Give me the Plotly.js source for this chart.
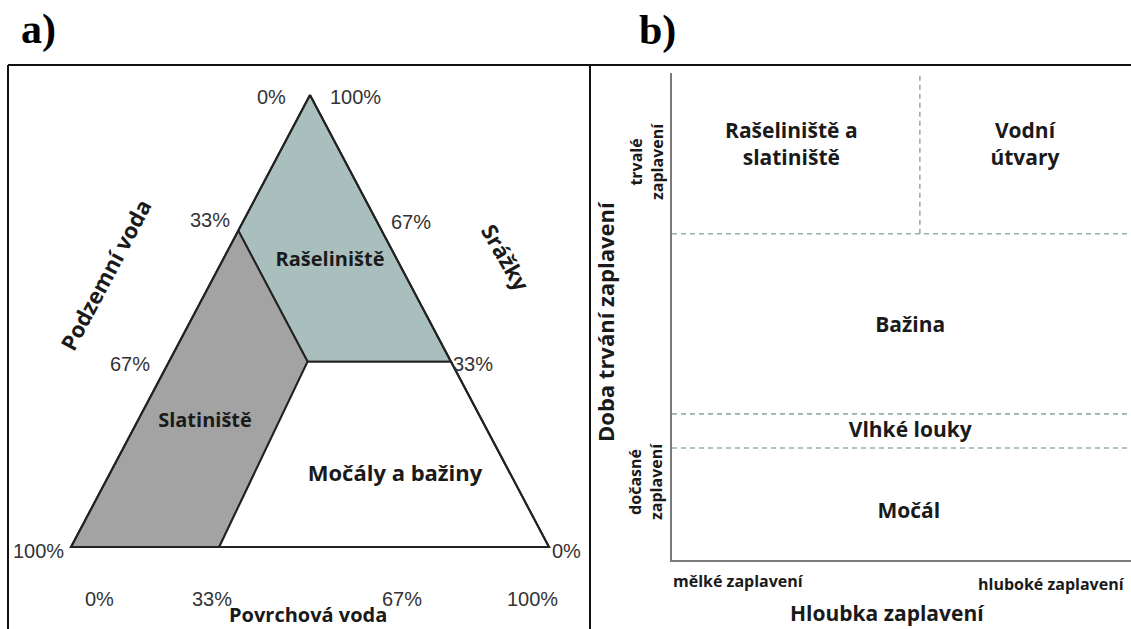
<!DOCTYPE html>
<html><head><meta charset="utf-8">
<script src="https://cdn.plot.ly/plotly-3.0.1.min.js"></script>
<style>html,body{margin:0;padding:0;background:#fff}#chart{width:1131px;height:629px}</style>
</head><body><div id="chart"></div>
<script>
// ---------- DATA ----------
// Panel a: regions in the triangle (x: 0..100 along the base, y: 0..100 up to the apex)
const peatX  = [50, 35, 49.5, 79.5, 50];
const peatY  = [100, 70, 41, 41, 100];
const fenX   = [35, 0, 31, 49.5, 35];
const fenY   = [70, 0, 0, 41, 70];
const marshX = [49.5, 31, 100, 79.5, 49.5];
const marshY = [41, 0, 0, 41, 41];
const triX   = [50, 0, 100, 50];
const triY   = [100, 0, 0, 100];
const regionNamesA = ['Rašeliniště', 'Slatiniště', 'Močály a bažiny'];
const groundTicks  = ['0%', '33%', '67%', '100%'];   // Podzemní voda (left edge, top -> bottom)
const rainTicks    = ['100%', '67%', '33%', '0%'];   // Srážky (right edge, top -> bottom)
const surfaceTicks = ['0%', '33%', '67%', '100%'];   // Povrchová voda (base, left -> right)
const axisNamesA   = ['Podzemní voda', 'Srážky', 'Povrchová voda'];

// Panel b: flooding duration (0..1) vs. depth (0..1)
const durationBounds = [0.23, 0.30, 0.67];
const depthSplit = 0.54;
const classesB = ['Rašeliniště a<br>slatiniště', 'Vodní<br>útvary', 'Bažina', 'Vlhké louky', 'Močál'];
const depthLabels = ['mělké zaplavení', 'hluboké zaplavení'];
const durationLabels = ['trvalé<br>zaplavení', 'dočasné<br>zaplavení'];
const axisNamesB = ['Hloubka zaplavení', 'Doba trvání zaplavení'];

// ---------- LAYOUT HELPERS ----------
const W = 1131, H = 629;
const PX = p => p / W, PY = p => 1 - p / H;
// panel a scale: base from px 71 (x=0) with 4.78 px/unit; base at py 547 (y=0) with 4.52 px/unit
const ax0 = 71, axs = 4.78, ay0 = 547, ays = 4.52;
const xa = [(0 - ax0) / axs, (590 - ax0) / axs];
const ya = [(ay0 - H) / ays, ay0 / ays];
const dX = p => (p - ax0) / axs, dY = p => (ay0 - p) / ays;

const pctFont = {family: 'Liberation Sans, Arial, sans-serif', size: 20, color: '#333'};
const boldFont = (s) => ({family: 'Open Sans, sans-serif', size: s, color: '#1a1a1a', weight: 'bold'});
const edge = {color: '#222', width: 2};

const traces = [
  {x: peatX, y: peatY, fill: 'toself', fillcolor: '#a8bfbe', line: edge, mode: 'lines', xaxis: 'x', yaxis: 'y', hoverinfo: 'skip'},
  {x: fenX, y: fenY, fill: 'toself', fillcolor: '#a3a3a3', line: edge, mode: 'lines', xaxis: 'x', yaxis: 'y', hoverinfo: 'skip'},
  {x: marshX, y: marshY, fill: 'toself', fillcolor: '#ffffff', line: edge, mode: 'lines', xaxis: 'x', yaxis: 'y', hoverinfo: 'skip'},
  {x: triX, y: triY, line: edge, mode: 'lines', xaxis: 'x', yaxis: 'y', hoverinfo: 'skip'},
  {x: [dX(330), dX(205)], y: [dY(261), dY(422)], text: regionNamesA.slice(0, 2),
   mode: 'text', textfont: boldFont(20), xaxis: 'x', yaxis: 'y', hoverinfo: 'skip', cliponaxis: false},
  {x: [dX(395)], y: [dY(475)], text: regionNamesA.slice(2),
   mode: 'text', textfont: boldFont(22), xaxis: 'x', yaxis: 'y', hoverinfo: 'skip', cliponaxis: false}
];

// Panel b dashed boundaries
const dashLine = {color: '#95b2aa', width: 1.6, dash: '5px,4px'};
durationBounds.forEach(b => traces.push({x: [0, 1], y: [b, b], mode: 'lines', line: dashLine, xaxis: 'x2', yaxis: 'y2', hoverinfo: 'skip'}));
traces.push({x: [depthSplit, depthSplit], y: [durationBounds[2], 1], mode: 'lines', line: dashLine, xaxis: 'x2', yaxis: 'y2', hoverinfo: 'skip'});
traces.push({
  x: [0.26, 0.769, 0.519, 0.519, 0.516], y: [0.849, 0.849, 0.479, 0.264, 0.098],
  text: classesB, mode: 'text', textfont: boldFont(21), xaxis: 'x2', yaxis: 'y2', hoverinfo: 'skip', cliponaxis: false
});

const ann = [];
const addA = (text, px, py, font, angle) => ann.push({text, x: PX(px), y: PY(py), xref: 'paper', yref: 'paper',
  showarrow: false, font, textangle: angle || 0, xanchor: 'center', yanchor: 'middle'});

// panel letters
addA('a)', 38, 30, {family: 'Liberation Serif, Times New Roman, serif', size: 42, color: '#000', weight: 'bold'});
addA('b)', 657, 31, {family: 'Liberation Serif, Times New Roman, serif', size: 42, color: '#000', weight: 'bold'});

// ternary tick labels
const gPos = [[271, 97], [210, 220], [130, 364], [38, 551]];
const rPos = [[355, 97], [411, 222], [473, 364], [566, 551]];
const sPos = [[99, 599], [212, 599], [402, 599], [532, 599]];
groundTicks.forEach((t, i) => addA(t, gPos[i][0], gPos[i][1], pctFont));
rainTicks.forEach((t, i) => addA(t, rPos[i][0], rPos[i][1], pctFont));
surfaceTicks.forEach((t, i) => addA(t, sPos[i][0], sPos[i][1], pctFont));
addA(axisNamesA[0], 105, 275, boldFont(22), -62);
addA(axisNamesA[1], 506, 257, boldFont(22), 60);
addA(axisNamesA[2], 308, 614, boldFont(20));

// panel b axis labels
const smallBold = {family: 'Open Sans, sans-serif', size: 16, color: '#1a1a1a', weight: 'bold'};
addA(depthLabels[0], 739, 581, smallBold);
addA(depthLabels[1], 1051, 584, smallBold);
addA(durationLabels[0], 646, 162, smallBold, -90);
addA(durationLabels[1], 646, 482, smallBold, -90);
addA(axisNamesB[0], 887, 613, boldFont(21));
addA(axisNamesB[1], 605, 322, boldFont(22), -90);

const shapes = [
  {type: 'line', xref: 'paper', yref: 'paper', x0: PX(8), x1: 1, y0: PY(65), y1: PY(65), line: {color: '#111', width: 2}},
  {type: 'line', xref: 'paper', yref: 'paper', x0: PX(8), x1: PX(8), y0: PY(65), y1: 0, line: {color: '#111', width: 2}},
  {type: 'line', xref: 'paper', yref: 'paper', x0: PX(590), x1: PX(590), y0: PY(65), y1: 0, line: {color: '#111', width: 2}}
];

const hidden = {visible: false, fixedrange: true};
const layout = {
  width: W, height: H, margin: {l: 0, r: 0, t: 0, b: 0}, showlegend: false,
  paper_bgcolor: '#fff', plot_bgcolor: 'rgba(0,0,0,0)',
  xaxis: Object.assign({domain: [0, PX(590)], range: xa}, hidden),
  yaxis: Object.assign({domain: [0, 1], range: ya}, hidden),
  xaxis2: {domain: [PX(672), 1], range: [0, 1], showline: true, linecolor: '#7a7a7a', linewidth: 2,
           showgrid: false, zeroline: false, showticklabels: false, ticks: '', anchor: 'y2', fixedrange: true},
  yaxis2: {domain: [PY(560), PY(73)], range: [0, 1], showline: true, linecolor: '#7a7a7a', linewidth: 2,
           showgrid: false, zeroline: false, showticklabels: false, ticks: '', anchor: 'x2', fixedrange: true},
  annotations: ann, shapes: shapes
};
Plotly.newPlot('chart', traces, layout, {staticPlot: true, displayModeBar: false});
</script></body></html>
